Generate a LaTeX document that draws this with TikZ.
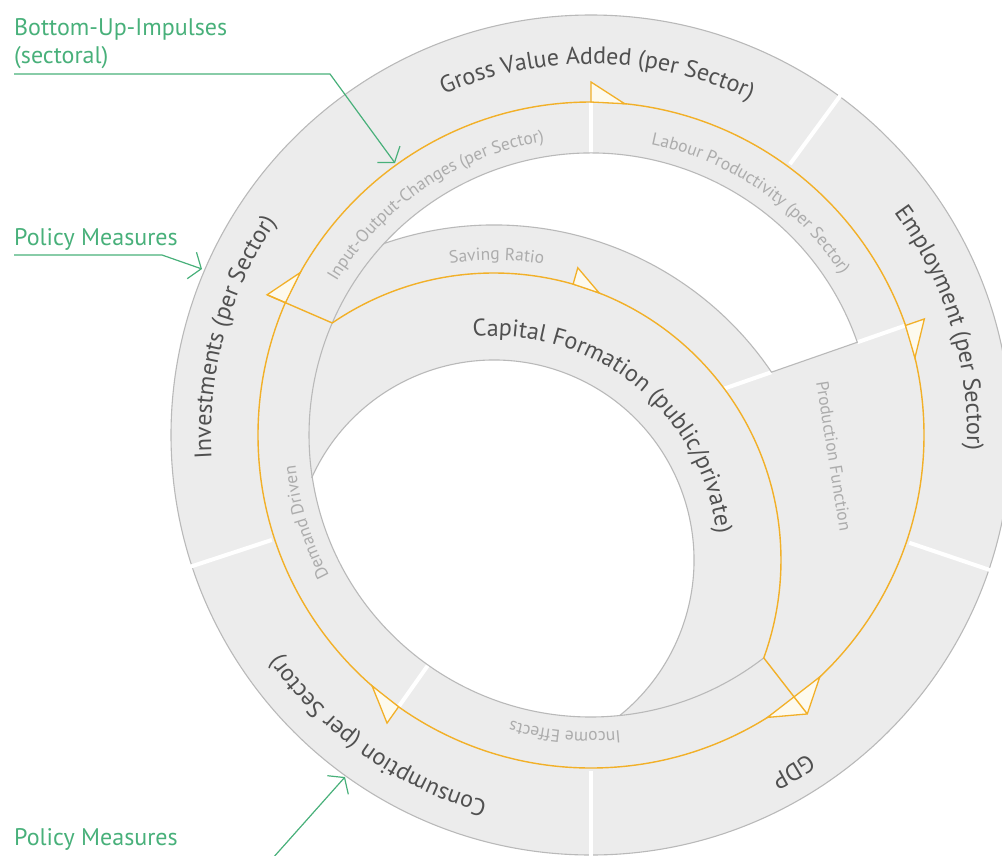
\documentclass[tikz,border=0pt]{standalone}
\usepackage{fontspec}
\setmainfont{PT Sans}
\usetikzlibrary{calc,decorations.text,arrows.meta}
\definecolor{ringfill}{RGB}{236,236,236}
\definecolor{edgegrey}{RGB}{185,185,185}
\definecolor{flow}{RGB}{242,176,40}
\definecolor{flowfill}{RGB}{253,250,238}
\definecolor{labdark}{RGB}{80,80,80}
\definecolor{lablight}{RGB}{172,172,172}
\definecolor{note}{RGB}{72,176,122}
\newcommand\lblbig{\fontsize{24}{28}\selectfont}
\newcommand\lblsmall{\fontsize{17.5}{20}\selectfont}
\begin{document}
\begin{tikzpicture}[x=1pt,y=1pt,
  edge/.style={draw=edgegrey, line width=1.1pt},
  sep/.style={draw=white, line width=4pt},
  flowline/.style={draw=flow, line width=1.4pt, line join=miter},
  flowhead/.style={draw=flow, fill=flowfill, line width=1.3pt, line join=miter},
  noteline/.style={draw=note, line width=1.2pt, -{Straight Barb[length=10pt,width=28pt]}},
  notetext/.style={text=note, font=\lblbig, anchor=base west, inner sep=0pt},
]
\useasboundingbox (0,0) rectangle (1002,-855);
\clip (0,0) rectangle (1002,-855);
\coordinate (C1) at (591,-435);
\coordinate (C2) at (494,-560);

% grey disc
\fill[ringfill] (C1) circle[radius=420];
\draw[edge] (C1) circle[radius=420];

% white separators
\foreach \a in {53.7,-18.7,-90,198.2} \draw[sep] ($(C1)+(\a:336)$) -- ($(C1)+(\a:424)$);
\foreach \a in {90,19.2,234.7} \draw[sep] ($(C1)+(\a:282)$) -- ($(C1)+(\a:333)$);
\draw[sep] ($(C1)+(19.2:141)$) -- ($(C1)+(19.2:191)$);

% white crescent (top right)
\path[fill=white, edge] ($(C1)+(19.2:282)$) arc[start angle=19.2, end angle=137.26, radius=282]
  arc[start angle=109.21, end angle=34.1, radius=335] -- cycle;
% central white hole
\path[fill=white, edge] ($(C2)+(155.45:200)$) arc[start angle=155.45, end angle=-51.04, radius=200]
  arc[start angle=275.84, end angle=188.54, radius=282] -- cycle;
% further grey borders
\draw[edge] ($(C1)+(137.26:282)$) arc[start angle=137.26, end angle=188.54, radius=282];
\draw[edge] ($(C1)+(275.84:282)$) arc[start angle=275.84, end angle=307.79, radius=282];

% flow: outer circle and arrowheads
\draw[flowline] (C1) circle[radius=333];
\foreach \a in {90,19.2,234.7,156.59}
  \path[flowhead] ($(C1)+(\a:333)$) -- ($(C1)+(\a:353)$) -- ($(C1)+(\a-5.8:333)$) -- cycle;
\path[flowhead] ($(C1)+(-46.6:333)$) -- ($(C1)+(-52.21:353)$) -- ($(C1)+(-58.0:333)$) -- cycle;
% inner flow
\draw[flowline] ($(C1)+(156.59:353)$) -- ($(C1)+(156.59:282)$)
  arc[start angle=124.31, end angle=-19.94, radius=287] -- ($(C1)+(-52.21:353)$);
\path[flowhead] ($(C2)+(74:287)$) -- ($(C2)+(74:304)$) -- ($(C2)+(68.5:287)$) -- cycle;

% outer ring labels
\path[decorate, decoration={text along path, text align=center, text={|\lblbig\color{labdark}|Gross Value Added (per Sector)}}]
  ($(C1)+(149:371)$) arc[start angle=149, end angle=29, radius=371];
\path[decorate, decoration={text along path, text align=center, text={|\lblbig\color{labdark}|Employment (per Sector)}}]
  ($(C1)+(77:376)$) arc[start angle=77, end angle=-43, radius=376];
\path[decorate, decoration={text along path, text align=center, text={|\lblbig\color{labdark}|GDP}}]
  ($(C1)+(1:385)$) arc[start angle=1, end angle=-119, radius=385];
\path[decorate, decoration={text along path, text align=center, text={|\lblbig\color{labdark}|Consumption (per Sector)}}]
  ($(C1)+(294.7:381)$) arc[start angle=294.7, end angle=174.7, radius=381];
\path[decorate, decoration={text along path, text align=center, text={|\lblbig\color{labdark}|Investments (per Sector)}}]
  ($(C1)+(224.7:380)$) arc[start angle=224.7, end angle=104.7, radius=380];

% middle band labels
\path[decorate, decoration={text along path, text align=center, text={|\lblsmall\color{lablight}|Input-Output-Changes (per Sector)}}]
  ($(C1)+(184:297)$) arc[start angle=184, end angle=64, radius=297];
\path[decorate, decoration={text along path, text align=center, text={|\lblsmall\color{lablight}|Labour Productivity (per Sector)}}]
  ($(C1)+(115.5:297)$) arc[start angle=115.5, end angle=-4.5, radius=297];
\path[decorate, decoration={text along path, text align=center, text={|\lblsmall\color{lablight}|Demand Driven}}]
  ($(C1)+(257:297)$) arc[start angle=257, end angle=137, radius=297];
\path[decorate, decoration={text along path, text align=center, text={|\lblsmall\color{lablight}|Income Effects}}]
  ($(C1)+(325:297)$) arc[start angle=325, end angle=205, radius=297];

% capital ring labels
\path[decorate, decoration={text along path, text align=center, text={|\lblbig\color{labdark}|Capital Formation (public/private)}}]
  ($(C2)+(121:224)$) arc[start angle=121, end angle=-19, radius=224];
\path[decorate, decoration={text along path, text align=center, text={|\lblsmall\color{lablight}|Saving Ratio}}]
  ($(C2)+(149.5:300)$) arc[start angle=149.5, end angle=29.5, radius=300];
\node[rotate=-81, text=lablight, font=\lblsmall, inner sep=0pt] (pf) at (834,-456) {Production Function};

% green annotations
\node[notetext] (bui) at (14,-35) {Bottom-Up-Impulses};
\node[notetext] (buis) at (14,-63) {(sectoral)};
\node[notetext] (pm1) at (14,-245) {Policy Measures};
\node[notetext] (pm2) at (14,-845) {Policy Measures};
\coordinate (n1a) at (14,-74);
\coordinate (n1b) at (330,-74);
\coordinate (n1c) at (395,-163);
\coordinate (n2a) at (14,-255);
\coordinate (n2b) at (162,-255);
\coordinate (n2c) at (202,-269);
\coordinate (n3a) at (14,-859);
\coordinate (n3b) at (272,-859);
\coordinate (n3c) at (345,-777);
\draw[noteline] (n1a) -- (n1b) -- (n1c);
\draw[noteline] (n2a) -- (n2b) -- (n2c);
\draw[noteline] (n3a) -- (n3b) -- (n3c);
\end{tikzpicture}
\end{document}
